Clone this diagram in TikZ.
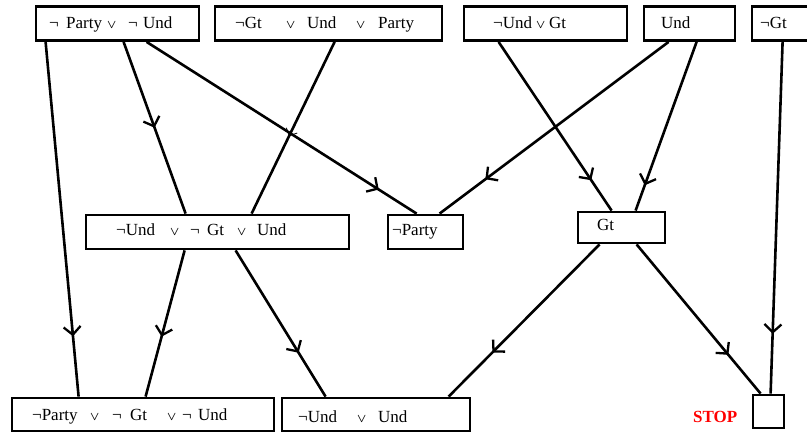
\documentclass[tikz,border=0pt]{standalone}
\usepackage{fontspec}
\setmainfont{Liberation Serif}
\usepackage{amsmath}
\usetikzlibrary{arrows.meta,decorations.markings}

% token placed at a fixed advance from the previous one
\newcommand\tk[2]{\makebox[#1pt][l]{#2}}
\newcommand\ov{{\fontsize{13}{13}\selectfont$\boldsymbol{\vee}$}}

\tikzset{
  clause/.style={draw, line width=2.8pt, minimum width=#1, minimum height=34pt, inner sep=0pt},
  txt/.style={anchor=base west, inner sep=0pt, font=\fontsize{17}{20}\selectfont},
  edge/.style={line width=2.6pt},
  midtip/.style={postaction={decorate}, decoration={markings,
      mark=at position #1 with {\arrow[line width=2.3pt]{Straight Barb[length=8pt,width=17pt]}}}},
  thintip/.style={postaction={decorate}, decoration={markings,
      mark=at position #1 with {\arrow[line width=0.8pt]{Straight Barb[length=6pt,width=12pt]}}}}
}

\begin{document}
\begin{tikzpicture}[x=1pt,y=-1pt]
\path[use as bounding box, clip] (0,0) rectangle (807,433);

% top row of clauses
\node[clause=163pt] (b1) at (117.5,23.5) {};
\node[clause=227pt] (b2) at (328.5,23.5) {};
\node[clause=163pt] (b3) at (545.5,23.5) {};
\node[clause=91pt]  (b4) at (689.5,23.5) {};
\node[clause=88pt]  (b5) at (796,23.5) {};

% middle row
\node[clause=263pt] (b6) at (217.5,232) {};
\node[clause=75pt]  (b7) at (425.5,232) {};
\node[clause=87pt, minimum height=31pt] (b8) at (621.5,227.5) {};

% bottom row
\node[clause=262pt, minimum height=33pt] (b9)  at (143,414.5) {};
\node[clause=188pt, minimum height=33pt] (b10) at (376,414.5) {};
\node[clause=31pt,  minimum height=33pt] (stop) at (768.5,411.5) {};

% clause texts
\node[txt] (t1) at (49,29) {\tk{17}{¬}\tk{41}{Party}\tk{21}{\ov}\tk{15}{¬}Und};
\node[txt] (t2) at (235,29) {\tk{51}{¬Gt}\tk{21}{\ov}\tk{49}{Und}\tk{22}{\ov}Party};
\node[txt] (t3) at (493,29) {\tk{43}{¬Und}\tk{13}{\ov}Gt};
\node[txt] (t4) at (661,29) {Und};
\node[txt] (t5) at (760,29) {¬Gt};
\node[txt] (t6) at (116,236) {\tk{54}{¬Und}\tk{20}{\ov}\tk{17}{¬}\tk{30}{Gt}\tk{20}{\ov}Und};
\node[txt] (t7) at (392,236) {¬Party};
\node[txt] (t8) at (597,231) {Gt};
\node[txt] (t9) at (32,420) {\tk{58}{¬Party}\tk{22}{\ov}\tk{18}{¬}\tk{37}{Gt}\tk{15}{\ov}\tk{16}{¬}Und};
\node[txt] (t10) at (298,422) {\tk{59}{¬Und}\tk{21}{\ov}Und};
\node[txt, text=red, font=\fontsize{17}{20}\selectfont\bfseries] (stoplbl) at (693,422) {STOP};

% resolution steps
\draw[edge, midtip=0.83] ([xshift=11pt]b1.south west)  -- ([xshift=68pt]b9.north west);
\draw[edge, midtip=0.5]  ([xshift=89pt]b1.south west)  -- ([xshift=101pt]b6.north west);
\draw[edge, midtip=0.86] ([xshift=112pt]b1.south west) -- ([xshift=30pt]b7.north west);
\draw[edge, thintip=0.55] ([xshift=121pt]b2.south west) -- ([xshift=167pt]b6.north west);
\draw[edge, midtip=0.82] ([xshift=36pt]b3.south west)  -- ([xshift=35pt]b8.north west);
\draw[edge, midtip=0.8]  ([xshift=26pt]b4.south west)  -- ([xshift=53pt]b7.north west);
\draw[edge, midtip=0.85] ([xshift=54pt]b4.south west)  -- ([xshift=59pt]b8.north west);
\draw[edge, midtip=0.83] ([xshift=32pt]b5.south west)  -- ([xshift=19pt]stop.north west);
\draw[edge, midtip=0.59] ([xshift=100pt]b6.south west) -- ([xshift=135pt]b9.north west);
\draw[edge, midtip=0.7]  ([xshift=151pt]b6.south west) -- ([xshift=45pt]b10.north west);
\draw[edge, midtip=0.71] ([xshift=23pt]b8.south west)  -- ([xshift=168pt]b10.north west);
\draw[edge, midtip=0.74] ([xshift=60pt]b8.south west)  -- ([xshift=9pt]stop.north west);
\end{tikzpicture}
\end{document}
